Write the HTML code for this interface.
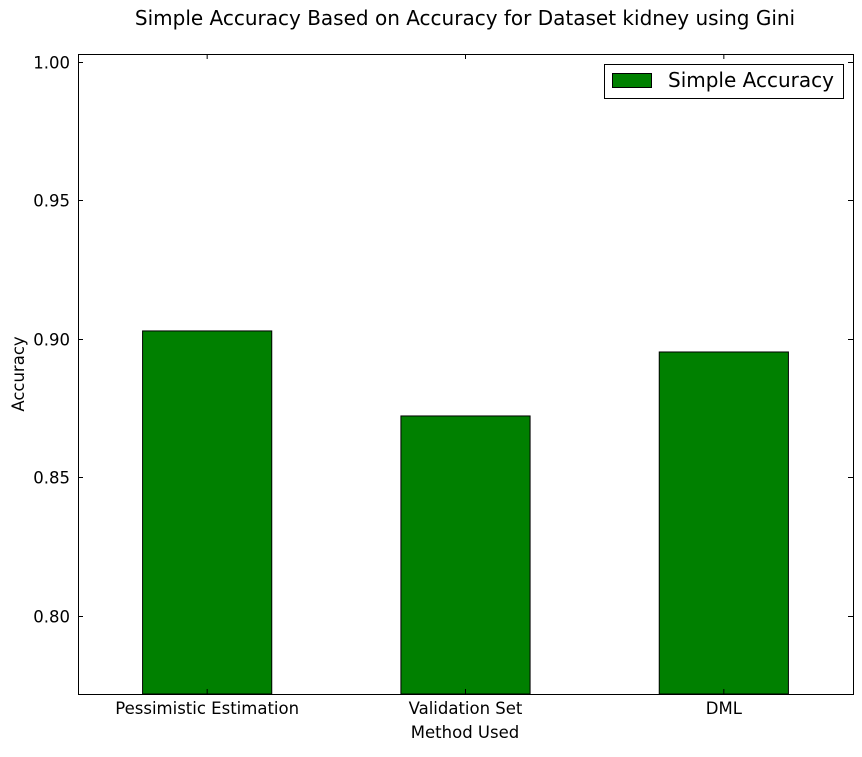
<!DOCTYPE html>
<html><head><meta charset="utf-8"><style>
body{margin:0;background:#fff;}
svg text{font-family:"DejaVu Sans","Liberation Sans",sans-serif;}
</style></head><body>
<svg id="chart" width="862" height="752" xmlns="http://www.w3.org/2000/svg">
<rect width="862" height="752" fill="#fff"/>
<text x="465" y="25" font-size="20" text-anchor="middle">Simple Accuracy Based on Accuracy for Dataset kidney using Gini</text>
<g id="bars"></g>
<g id="axes"></g>
<rect x="78.5" y="54.5" width="775" height="640" fill="none" stroke="#000" stroke-width="1"/>
<text x="465" y="738" font-size="16.5" text-anchor="middle">Method Used</text>
<text x="24" y="374" font-size="16.5" text-anchor="middle" transform="rotate(-90 24 374)">Accuracy</text>
<g>
<rect x="604.5" y="64.5" width="239" height="34" fill="#fff" stroke="#000"/>
<rect x="612.5" y="73.5" width="39" height="14" fill="#008000" stroke="#000"/>
<text x="668" y="87" font-size="20">Simple Accuracy</text>
</g>
</svg>
<script>
const categories = ["Pessimistic Estimation", "Validation Set", "DML"];
const accuracyValues = [0.9029, 0.8722, 0.8953];
const yTicks = [0.80, 0.85, 0.90, 0.95, 1.00];
const yTickLabels = ["0.80", "0.85", "0.90", "0.95", "1.00"];
const NS = "http://www.w3.org/2000/svg";
const plotLeft = 78, plotRight = 853, plotTop = 54, plotBottom = 694;
const yMin = 0.7718, yMax = 1.0029;
function yScale(v){ return plotBottom - (v - yMin) / (yMax - yMin) * (plotBottom - plotTop); }
const band = (plotRight - plotLeft) / categories.length;
function xc(i){ return plotLeft + band * (i + 0.5); }
const barsG = document.getElementById('bars');
const axesG = document.getElementById('axes');
categories.forEach((c, i) => {
  const w = band * 0.5;
  const r = document.createElementNS(NS, 'rect');
  r.setAttribute('x', xc(i) - w / 2);
  r.setAttribute('y', yScale(accuracyValues[i]));
  r.setAttribute('width', w);
  r.setAttribute('height', plotBottom - yScale(accuracyValues[i]));
  r.setAttribute('fill', '#008000');
  r.setAttribute('stroke', '#000');
  
  
  barsG.appendChild(r);
  [[plotBottom, plotBottom - 5], [plotTop, plotTop + 5]].forEach(p => {
    const l = document.createElementNS(NS, 'line');
    l.setAttribute('x1', xc(i)); l.setAttribute('x2', xc(i));
    l.setAttribute('y1', p[0]); l.setAttribute('y2', p[1]);
    l.setAttribute('stroke', '#000');
    
    
    axesG.appendChild(l);
  });
  const t = document.createElementNS(NS, 'text');
  t.setAttribute('x', xc(i)); t.setAttribute('y', plotBottom + 20);
  t.setAttribute('font-size', '16.5'); t.setAttribute('text-anchor', 'middle');
  t.textContent = c;
  
  
  axesG.appendChild(t);
});
yTicks.forEach((v, i) => {
  const yy = Math.round(yScale(v)) + 0.5;
  [[plotLeft, plotLeft + 5], [plotRight, plotRight - 5]].forEach(p => {
    const l = document.createElementNS(NS, 'line');
    l.setAttribute('x1', p[0]); l.setAttribute('x2', p[1]);
    l.setAttribute('y1', yy); l.setAttribute('y2', yy);
    l.setAttribute('stroke', '#000');
    
    
    axesG.appendChild(l);
  });
  const t = document.createElementNS(NS, 'text');
  t.setAttribute('x', plotLeft - 8); t.setAttribute('y', yy + 6);
  t.setAttribute('font-size', '16.5'); t.setAttribute('text-anchor', 'end');
  t.textContent = yTickLabels[i];
  
  
  axesG.appendChild(t);
});
</script>
</body></html>
